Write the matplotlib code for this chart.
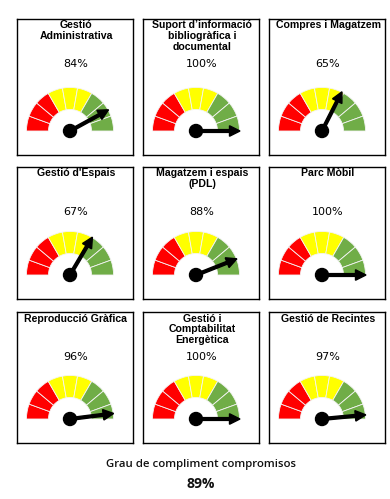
import matplotlib
matplotlib.use("Agg")
from matplotlib import pyplot as plt
from matplotlib.patches import Wedge, Circle
import numpy as np

titles = ["Gestió\nAdministrativa", "Suport d’informació\nbibliogràfica i\ndocumental",
          "Compres i Magatzem", "Gestió d'Espais", "Magatzem i espais\n(PDL)", "Parc Mòbil",
          "Reproducció Gràfica", "Gestió i\nComptabilitat\nEnergètica", "Gestió de Recintes"]
values = [84, 100, 65, 67, 88, 100, 96, 100, 97]
overall_label = "Grau de compliment compromisos"
overall_value = 89

band_colors = ["#ff0000"] * 3 + ["#ffff00"] * 3 + ["#70ad47"] * 3

W, H = 390, 499
fig = plt.figure(figsize=(W / 100, H / 100), dpi=100)

# panel boxes in pixels (left, top, width, height)
col_x = [17, 143, 269]
row_y = [(19, 155), (167, 299), (312, 443)]
box_w = 116

for i, (title, val) in enumerate(zip(titles, values)):
    x0 = col_x[i % 3]
    top, bot = row_y[i // 3]
    h = bot - top
    ax = fig.add_axes([x0 / W, 1 - bot / H, box_w / W, h / H])
    ax.set_xlim(0, box_w)
    ax.set_ylim(0, h)
    ax.set_xticks([])
    ax.set_yticks([])
    for s in ax.spines.values():
        s.set_linewidth(1.0)
        s.set_color("black")

    cx, cy = 53, 24
    R, r = 43.5, 21.5
    for k, c in enumerate(band_colors):
        a1 = 180 - k * 20
        a0 = a1 - 20
        ax.add_patch(Wedge((cx, cy), R, a0, a1, width=R - r, facecolor=c,
                           edgecolor="#f4f4f4", linewidth=0.6))

    ang = np.radians(180 - val / 100 * 180)
    L = 44
    ax.arrow(cx, cy, L * np.cos(ang), L * np.sin(ang), width=2.8, head_width=10.5,
             head_length=10.5, length_includes_head=True, color="black", zorder=5)
    ax.add_patch(Circle((cx, cy), 6.5, color="black", zorder=6))

    ax.text(box_w / 2 + 1, h - 1.5, title, ha="center", va="top", fontsize=7.6,
            fontweight="bold", family="Liberation Sans", linespacing=1.12)
    ax.text(box_w / 2 + 1, h - 45, f"{val}%", ha="center", va="center", fontsize=8,
            family="DejaVu Sans", color="black")

fig.text(201 / W, 1 - 465 / H, overall_label, ha="center", va="center",
         fontsize=8.2, family="Open Sans", fontweight="semibold", color="#111111")
fig.text(201 / W, 1 - 484 / H, f"{overall_value}%", ha="center", va="center",
         fontsize=10, family="Open Sans", fontweight="bold", color="#111111")

fig.savefig("out.png", dpi=100)
